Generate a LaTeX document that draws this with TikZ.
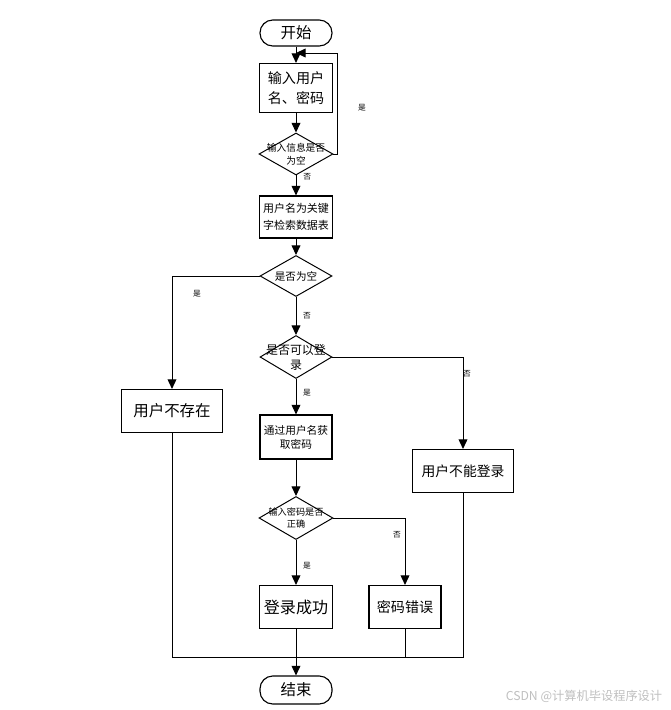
\documentclass[tikz,border=0pt]{standalone}
\usepackage{fontspec}
\setmainfont{Noto Sans CJK SC}
\usetikzlibrary{shapes.geometric, arrows.meta, positioning, calc}
\tikzset{
    term/.style={rectangle, rounded corners=0.32cm, draw, line width=0.8pt, minimum width=1.8cm, inner sep=0pt, font=\fontsize{11}{13}\selectfont},
    proc/.style={rectangle, draw, line width=0.8pt, align=center, inner sep=0pt},
    decision/.style={diamond, draw, line width=0.7pt, minimum width=1.85cm, minimum height=1.05cm, inner sep=0pt},
    arr/.style={-{Triangle[length=2.4mm, width=2.2mm]}, line width=0.7pt},
    link/.style={line width=0.7pt},
    yesno/.style={font=\fontsize{5.5}{6}\selectfont, inner sep=0pt}
}

\begin{document}
\begin{tikzpicture}
    \useasboundingbox (0,0) rectangle (16.775,-17.75);

    \node[term, minimum height=0.65cm] (start) at (7.4,-0.825) {开始};
    \node[proc, minimum width=1.825cm, minimum height=1.225cm, font=\fontsize{10}{14.2}\selectfont] (input) at (7.4,-2.2) {输入用户\\名、密码};
    \node[decision, label={[font=\fontsize{6.9}{9.2}\selectfont, align=center]center:{输入信息是否\\为空}}] (empty) at (7.4,-3.85) {};
    \node[proc, minimum width=1.825cm, minimum height=1.05cm, font=\fontsize{7.8}{12}\selectfont] (search) at (7.4,-5.425) {用户名为关键\\字检索数据表};
    \node[decision, minimum width=1.8cm, minimum height=1.025cm, label={[font=\fontsize{7.5}{9}\selectfont]center:{是否为空}}] (found) at (7.4,-6.9) {};
    \node[decision, minimum width=1.8cm, minimum height=1.075cm, label={[font=\fontsize{8.5}{10.7}\selectfont, align=center]center:{是否可以登\\录}}] (login) at (7.4,-8.925) {};
    \node[proc, minimum width=2.525cm, minimum height=1.075cm, font=\fontsize{11}{13}\selectfont] (nouser) at (4.3,-10.275) {用户不存在};
    \node[proc, minimum width=2.525cm, minimum height=1.075cm, font=\fontsize{9.8}{12}\selectfont] (nologin) at (11.575,-11.775) {用户不能登录};
    \node[proc, minimum width=1.8cm, minimum height=1.1cm, font=\fontsize{7.6}{10}\selectfont] (getpwd) at (7.4,-10.925) {通过用户名获\\取密码};
    \node[decision, minimum height=1.075cm, label={[font=\fontsize{6.5}{8.2}\selectfont, align=center]center:{输入密码是否\\正确}}] (check) at (7.4,-12.95) {};
    \node[proc, minimum width=1.825cm, minimum height=1.075cm, font=\fontsize{11.4}{13}\selectfont] (success) at (7.4,-15.175) {登录成功};
    \node[proc, minimum width=1.8cm, minimum height=1.075cm, font=\fontsize{10}{12}\selectfont] (wrong) at (10.125,-15.175) {密码错误};
    \node[term, minimum height=0.7cm] (finish) at (7.4,-17.25) {结束};

    \coordinate (back) at (7.4,-1.325);
    \coordinate (merge) at (7.4,-16.425);

    \draw[arr] (start) -- (input);
    \draw[arr] (input) -- (empty);
    \draw[arr] (empty.east) -- ++(0.1,0) |- (back);
    \draw[arr] (empty) -- (search);
    \draw[arr] (search) -- (found);
    \draw[arr] (found.west) -| (nouser.north);
    \draw[arr] (found) -- (login);
    \draw[arr] (login.east) -| (nologin.north);
    \draw[arr] (login) -- (getpwd);
    \draw[arr] (getpwd) -- (check);
    \draw[arr] (check.east) -| (wrong.north);
    \draw[arr] (check) -- (success);
    \draw[arr] (success) -- (finish);
    \draw[link] (nouser.south) |- (merge);
    \draw[link] (nologin.south) |- (merge);
    \draw[link] (wrong.south) |- (merge);

    \node[yesno] (yes1) at (9.05,-2.7) {是};
    \node[yesno] (no1) at (7.68,-4.43) {否};
    \node[yesno] (yes2) at (4.925,-7.35) {是};
    \node[yesno] (no2) at (7.675,-7.9) {否};
    \node[yesno] (no3) at (11.675,-9.35) {否};
    \node[yesno] (yes3) at (7.675,-9.825) {是};
    \node[yesno] (no4) at (9.925,-13.375) {否};
    \node[yesno] (yes4) at (7.675,-14.15) {是};

    \node[font=\fontsize{8.7}{10}\selectfont, text=black!25] (mark) at (14.6,-17.4) {CSDN @计算机毕设程序设计};
\end{tikzpicture}
\end{document}
